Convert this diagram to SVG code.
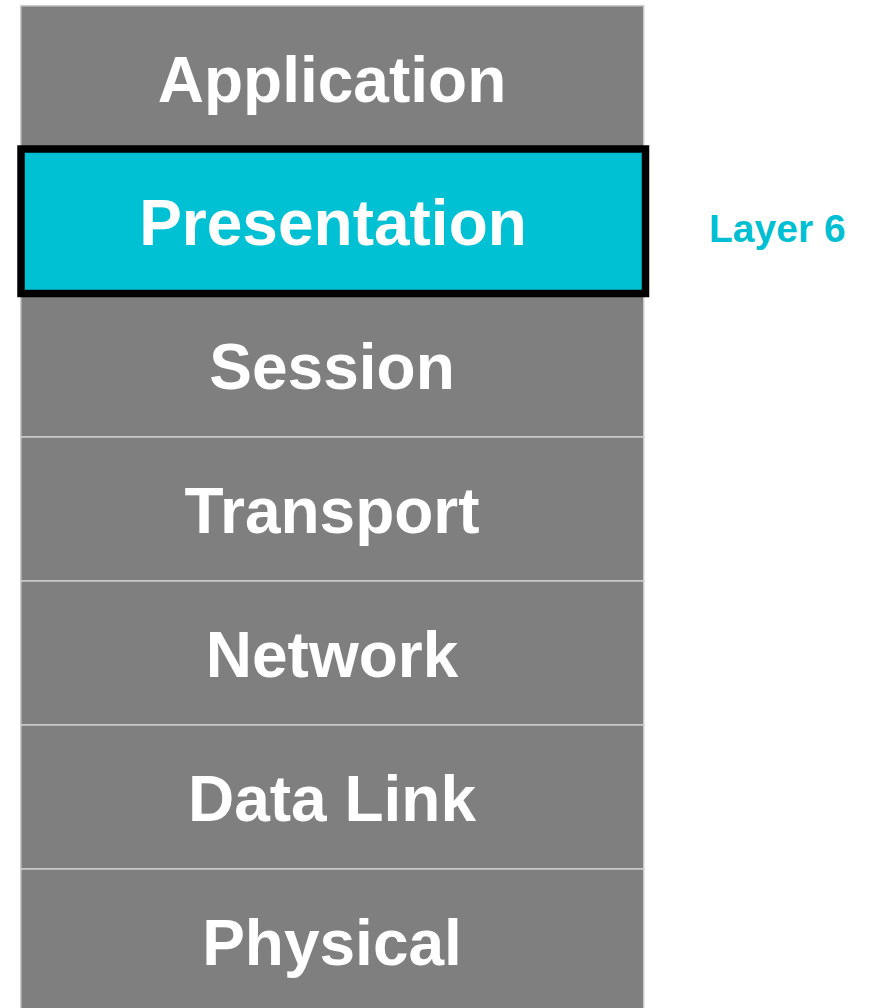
<svg xmlns="http://www.w3.org/2000/svg" width="874" height="1008" viewBox="0 0 874 1008">
<style>
.row{fill:#7f7f7f;stroke:#cccccc;stroke-width:1.5}
.lbl{font-family:"Liberation Sans",Arial,sans-serif;font-weight:bold;font-size:64px;fill:#ffffff;text-anchor:middle}
.side{font-family:"Liberation Sans",Arial,sans-serif;font-weight:bold;font-size:39px;fill:#00bfd3}
</style>
<rect x="0" y="0" width="874" height="1008" fill="#ffffff"/>
<g id="application"><rect class="row" x="20.75" y="5.75" width="623" height="144"/><text class="lbl" x="332" y="102">Application</text></g>
<g id="session"><rect class="row" x="20.75" y="293" width="623" height="144"/><text class="lbl" x="332" y="389">Session</text></g>
<g id="transport"><rect class="row" x="20.75" y="437" width="623" height="144"/><text class="lbl" x="332" y="533">Transport</text></g>
<g id="network"><rect class="row" x="20.75" y="581" width="623" height="144"/><text class="lbl" x="332" y="677">Network</text></g>
<g id="datalink"><rect class="row" x="20.75" y="725" width="623" height="144"/><text class="lbl" x="332" y="821">Data Link</text></g>
<g id="physical"><rect class="row" x="20.75" y="869" width="623" height="150"/><text class="lbl" x="332" y="965">Physical</text></g>
<g id="presentation"><rect x="21" y="149" width="624.5" height="144.5" fill="#00c1d4" stroke="#000000" stroke-width="7.5"/><text class="lbl" x="333" y="245">Presentation</text></g>
<g id="layer6"><text class="side" x="709" y="242">Layer 6</text></g>
<g id="connectors"></g>
</svg>
